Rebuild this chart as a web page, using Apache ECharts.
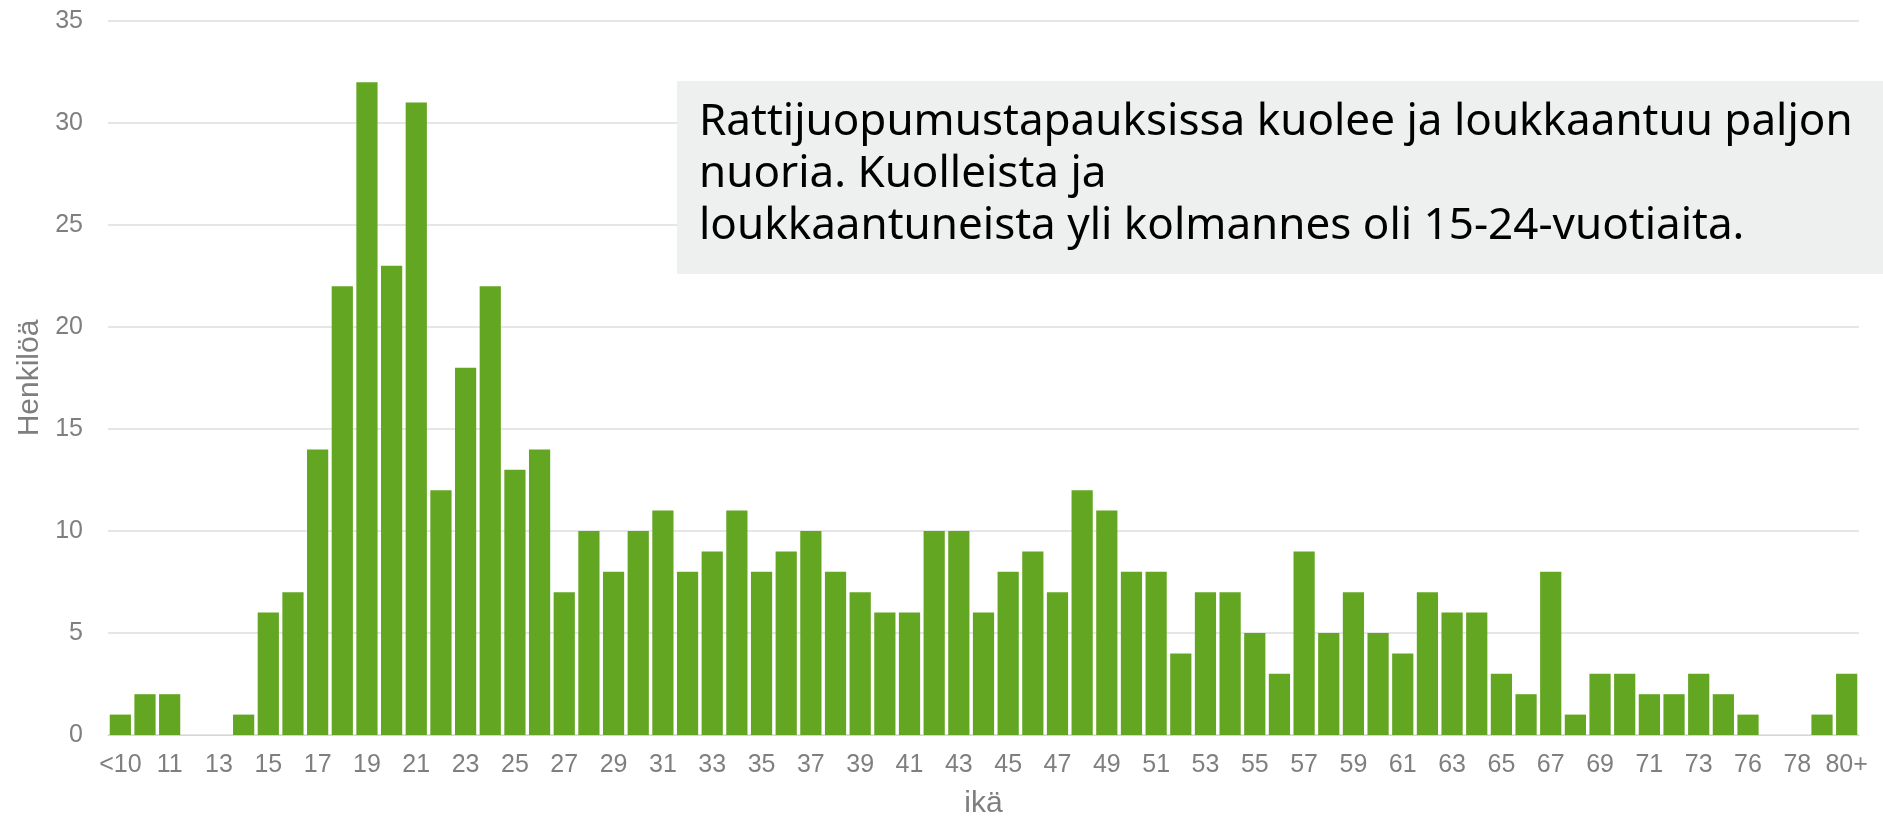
<!DOCTYPE html>
<html>
<head>
<meta charset="utf-8">
<title>Rattijuopumus ikä</title>
<script src="https://cdn.jsdelivr.net/npm/echarts@6/dist/echarts.min.js"></script>
<style>
  html, body { margin: 0; padding: 0; background: #fff; }
  #chart { width: 1883px; height: 821px; }
</style>
</head>
<body>
<div id="chart"></div>
<script>
// ikäryhmät (75 puuttuu lähteestä)
var ages = ['<10', '10', '11', '12', '13', '14', '15', '16', '17', '18', '19', '20',
  '21', '22', '23', '24', '25', '26', '27', '28', '29', '30', '31', '32', '33', '34',
  '35', '36', '37', '38', '39', '40', '41', '42', '43', '44', '45', '46', '47', '48',
  '49', '50', '51', '52', '53', '54', '55', '56', '57', '58', '59', '60', '61', '62',
  '63', '64', '65', '66', '67', '68', '69', '70', '71', '72', '73', '74', '76', '77',
  '78', '79', '80+']

// kuolleet ja loukkaantuneet, henkilöä
var persons = [1, 2, 2, 0, 0, 1, 6, 7, 14, 22, 32, 23,
  31, 12, 18, 22, 13, 14, 7, 10, 8, 10, 11, 8, 9, 11,
  8, 9, 10, 8, 7, 6, 6, 10, 10, 6, 8, 9, 7, 12,
  11, 8, 8, 4, 7, 7, 5, 3, 9, 5, 7, 5, 4, 7,
  6, 6, 3, 2, 8, 1, 3, 3, 2, 2, 3, 2, 1, 0,
  0, 1, 3]

var yTicks = [0, 5, 10, 15, 20, 25, 30, 35]

var note = [
  'Rattijuopumustapauksissa kuolee ja loukkaantuu paljon',
  'nuoria. Kuolleista ja',
  'loukkaantuneista yli kolmannes oli 15-24-vuotiaita.'
]

var chart = echarts.init(document.getElementById('chart'))

chart.setOption({
  animation: false,
  grid: {
    left: 108,
    right: 24,
    top: 21,
    bottom: 86,
    outerBoundsMode: 'none'
  },
  xAxis: {
    type: 'category',
    data: ages,
    name: 'ikä',
    nameLocation: 'middle',
    nameGap: 54,
    nameTextStyle: {
      color: '#7f7f7f',
      fontFamily: 'Liberation Sans',
      fontSize: 30
    },
    axisLine: { lineStyle: { color: '#d6d6d6', width: 1 } },
    axisTick: { show: false },
    axisLabel: {
      interval: 1,
      margin: 18,
      color: '#7f7f7f',
      fontFamily: 'Liberation Sans',
      fontSize: 25
    }
  },
  yAxis: {
    type: 'value',
    min: yTicks[0],
    max: yTicks[yTicks.length - 1],
    interval: 5,
    name: 'Henkilöä',
    nameLocation: 'middle',
    nameGap: 60,
    nameTextStyle: {
      color: '#7f7f7f',
      fontFamily: 'Liberation Sans',
      fontSize: 30
    },
    axisLabel: {
      margin: 25,
      color: '#7f7f7f',
      fontFamily: 'Liberation Sans',
      fontSize: 25
    },
    splitLine: { lineStyle: { color: '#e6e6e6', width: 2 } }
  },
  series: [{
    type: 'bar',
    data: persons,
    barCategoryGap: '14%',
    itemStyle: { color: '#63a621' }
  }],
  graphic: [{
    type: 'rect',
    left: 677,
    top: 81,
    shape: { width: 1206, height: 193 },
    style: { fill: '#eef0ef' },
    z: 10
  }, {
    type: 'text',
    left: 699,
    top: 96,
    style: {
      text: note.join('\n'),
      fill: '#000',
      font: '44px "Noto Sans"',
      lineHeight: 52
    },
    z: 11
  }]
})
</script>
</body>
</html>
